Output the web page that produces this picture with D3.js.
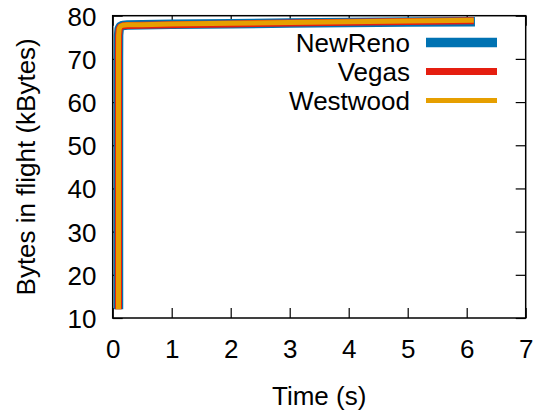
<!DOCTYPE html>
<html><head><meta charset="utf-8">
<script src="https://cdn.jsdelivr.net/npm/d3@7"></script>
<style>
html,body{margin:0;padding:0;background:#fff;}
svg{display:block;font-family:"Liberation Sans",Arial,sans-serif;}
</style></head>
<body>
<svg id="c" width="542" height="413"></svg>
<script>
// ---- data ----
const seriesNames = ["NewReno", "Vegas", "Westwood"];
const seriesColors = ["#0072b2", "#e51e10", "#e69f00"];
const seriesWidths = [9.5, 7, 5];
const timeNewReno = [0.098, 0.098, 0.100, 0.110, 0.130, 0.170, 0.25, 0.5, 1, 2, 3, 4, 5, 6.14];
const valNewReno  = [12.0, 70.0, 75.5, 77.0, 77.5, 77.75, 77.85, 77.9, 78.0, 78.15, 78.3, 78.42, 78.53, 78.62];
const timeVegas   = [0.098, 0.098, 0.100, 0.110, 0.130, 0.170, 0.25, 0.5, 1, 2, 3, 4, 5, 6.12];
const valVegas    = [12.0, 70.0, 75.4, 76.9, 77.4, 77.65, 77.75, 77.8, 77.92, 78.1, 78.3, 78.5, 78.68, 78.85];
const timeWestwood= [0.098, 0.098, 0.100, 0.110, 0.130, 0.170, 0.25, 0.5, 1, 2, 3, 4, 5, 6.12];
const valWestwood = [12.0, 70.0, 75.5, 77.0, 77.55, 77.78, 77.88, 77.92, 78.05, 78.25, 78.45, 78.62, 78.8, 78.97];
const xTicks = [0, 1, 2, 3, 4, 5, 6, 7];
const yTicks = [10, 20, 30, 40, 50, 60, 70, 80];
const xLabel = "Time (s)";
const yLabel = "Bytes in flight (kBytes)";

const seriesData = [
  timeNewReno.map((t,i)=>[t, valNewReno[i]]),
  timeVegas.map((t,i)=>[t, valVegas[i]]),
  timeWestwood.map((t,i)=>[t, valWestwood[i]])
];

// ---- layout ----
const L = 112.7, R = 525.7, T = 15.7, B = 318;
const FS = 26;
const svg = d3.select("#c");
const x = d3.scaleLinear().domain([0, 7]).range([L, R]);
const y = d3.scaleLinear().domain([10, 80]).range([B, T]);

// axes (inward ticks)
const gB = svg.append("g").attr("transform", `translate(0,${B})`)
  .call(d3.axisBottom(x).tickValues(xTicks).tickSize(-10).tickFormat(d3.format("d")));
gB.selectAll("text").attr("y", 40).attr("dy", null).attr("font-size", FS).attr("font-family", null).attr("fill", "#000");
const gT = svg.append("g").attr("transform", `translate(0,${T})`)
  .call(d3.axisTop(x).tickValues(xTicks).tickSize(-10).tickFormat(""));
const gL = svg.append("g").attr("transform", `translate(${L},0)`)
  .call(d3.axisLeft(y).tickValues(yTicks).tickSize(-10).tickFormat(d3.format("d")));
gL.selectAll("text").attr("x", 96.5 - L).attr("dy", "0.36em").attr("font-size", FS).attr("font-family", null).attr("fill", "#000");
const gR = svg.append("g").attr("transform", `translate(${R},0)`)
  .call(d3.axisRight(y).tickValues(yTicks).tickSize(-10).tickFormat(""));
[gB, gT, gL, gR].forEach(g => {
  g.select(".domain").remove();
  g.selectAll(".tick line").attr("stroke", "#000").attr("stroke-width", 1.2);
});

// lines
const line = d3.line().x(d => x(d[0])).y(d => y(d[1]));
seriesData.forEach((d, i) => {
  svg.append("path").datum(d).attr("d", line)
    .attr("fill", "none").attr("stroke", seriesColors[i]).attr("stroke-width", seriesWidths[i])
    .attr("stroke-linejoin", "round").attr("stroke-linecap", "butt");
});

// border
svg.append("rect").attr("x", L).attr("y", T).attr("width", R - L).attr("height", B - T)
  .attr("fill", "none").attr("stroke", "#000").attr("stroke-width", 1.5);

// legend
const legY = [42.5, 71.5, 100.5];
seriesNames.forEach((n, i) => {
  svg.append("text").attr("x", 410).attr("y", legY[i]).attr("dy", "0.36em")
    .attr("text-anchor", "end").attr("font-size", FS).attr("fill", "#000").text(n);
  svg.append("line").attr("x1", 426).attr("x2", 497).attr("y1", legY[i]).attr("y2", legY[i])
    .attr("stroke", seriesColors[i]).attr("stroke-width", seriesWidths[i]);
});

// axis titles
svg.append("text").attr("x", (L + R) / 2).attr("y", 405).attr("text-anchor", "middle")
  .attr("font-size", FS).attr("fill", "#000").text(xLabel);
svg.append("text").attr("transform", `translate(35,${(T + B) / 2}) rotate(-90)`)
  .attr("text-anchor", "middle").attr("font-size", FS).attr("fill", "#000").text(yLabel);
</script>
</body></html>
